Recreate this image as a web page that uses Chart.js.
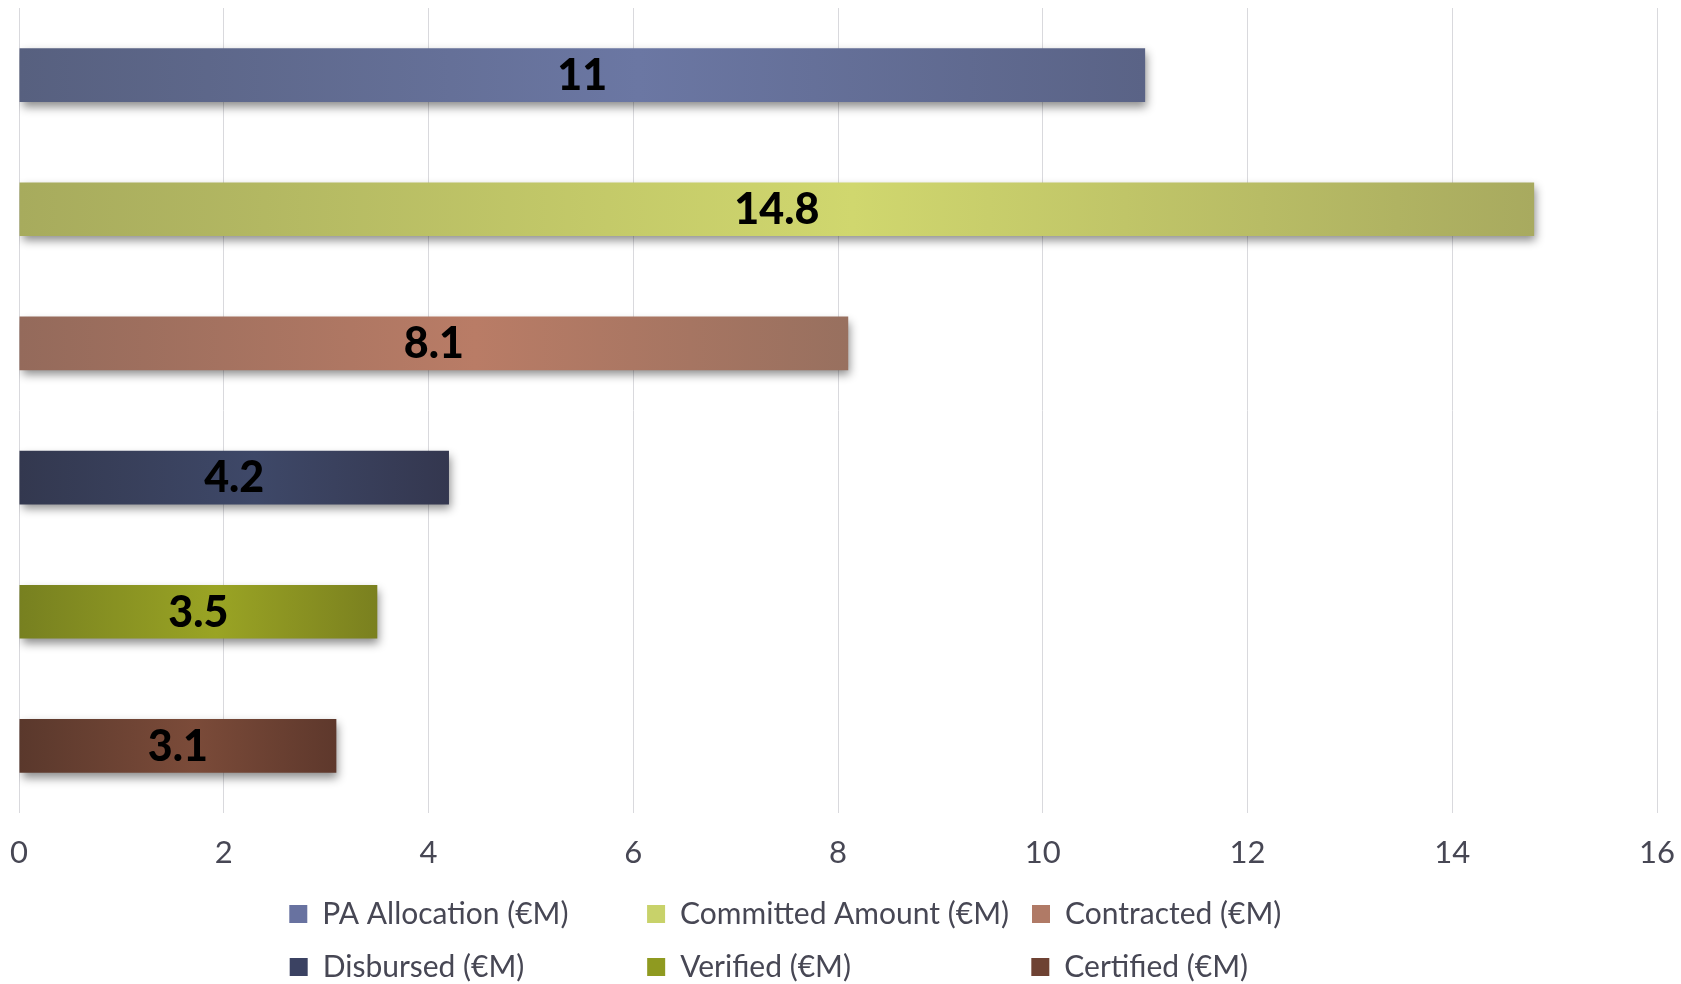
<!DOCTYPE html>
<html>
<head>
<meta charset="utf-8">
<script src="https://cdn.jsdelivr.net/npm/chart.js@4/dist/chart.umd.min.js"></script>
<style>
  html, body { margin: 0; padding: 0; background: #ffffff; }
  #wrap { width: 1681px; height: 984px; position: relative; }
</style>
</head>
<body>
<div id="wrap"><canvas id="chart"></canvas></div>
<script>
// ---- data ----
const categories = [''];
const seriesNames = [
  'PA Allocation (€M)',
  'Committed Amount (€M)',
  'Contracted (€M)',
  'Disbursed (€M)',
  'Verified (€M)',
  'Certified (€M)'
];
const seriesValues = [11, 14.8, 8.1, 4.2, 3.5, 3.1];
const xTickMin = 0;
const xTickMax = 16;
const xTickStep = 2;

// ---- styles ----
const barLeftColors   = ['#57607f', '#a7ab5d', '#946a5b', '#33384f', '#778020', '#5a382c'];
const barCenterColors = ['#6b77a3', '#d0d76e', '#b97c66', '#3e4868', '#9aa424', '#7b4b39'];
const barRightColors  = ['#5a6386', '#a8aa5f', '#98705f', '#34374f', '#7a801f', '#5e382c'];
const legendColors    = ['#6872a0', '#c8d26a', '#b07a66', '#3b4262', '#8f9a20', '#6e4233'];
const textColor = '#474754';
const FONT = 'Lato';
const LEGEND_FONT_SIZE = 30;
const LEGEND_COL1_TEXT = 302;
const LEGEND_COL3_TEXT = 322;
const LEGEND_MAX = 1300;
const LEGEND_DY = 8;
const X_AXIS_HEIGHT = 55;

function barFill(context, i) {
  const chart = context.chart;
  const xs = chart.scales && chart.scales.x;
  if (!xs || context.raw === undefined) return legendColors[i];
  const x0 = xs.getPixelForValue(0);
  const x1 = xs.getPixelForValue(context.raw);
  if (!isFinite(x0) || !isFinite(x1) || Math.abs(x1 - x0) < 1) return legendColors[i];
  const g = chart.ctx.createLinearGradient(x0, 0, x1, 0);
  g.addColorStop(0, barLeftColors[i]);
  g.addColorStop(0.55, barCenterColors[i]);
  g.addColorStop(1, barRightColors[i]);
  return g;
}

const datasets = seriesNames.map((name, i) => ({
  label: name,
  data: [seriesValues[i]],
  backgroundColor: (ctx) => barFill(ctx, i),
  borderWidth: 0,
  categoryPercentage: 1,
  barPercentage: 0.4
}));

// shadows + value labels
const barEffects = {
  id: 'barEffects',
  beforeDatasetsDraw(chart) {
    const c = chart.ctx;
    c.save();
    c.shadowColor = 'rgba(0,0,0,0.45)';
    c.shadowBlur = 9;
    c.shadowOffsetX = 2;
    c.shadowOffsetY = 5;
  },
  afterDatasetsDraw(chart) {
    const c = chart.ctx;
    c.restore();
    c.save();
    c.font = '900 43px ' + FONT;
    c.fillStyle = '#000000';
    c.textAlign = 'center';
    c.textBaseline = 'middle';
    chart.data.datasets.forEach((ds, i) => {
      const meta = chart.getDatasetMeta(i);
      meta.data.forEach((el, j) => {
        const p = el.getProps(['x', 'y', 'base'], true);
        c.fillText(String(ds.data[j]), (p.x + p.base) / 2, p.y + 1);
      });
    });
    c.restore();
  }
};

// legend in 3 columns
const legendColumns = {
  id: 'legendColumns',
  afterInit(chart) {
    const lg = chart.legend;
    if (!lg) return;
    const proto = Object.getPrototypeOf(lg);
    lg.fit = function () {
      const mw = this.maxWidth;
      this.maxWidth = Math.min(mw, LEGEND_MAX);
      proto.fit.call(this);
      this.maxWidth = mw;
    };
    lg.draw = function () {
      const s = { left: this.left, right: this.right, width: this.width, top: this.top, bottom: this.bottom };
      const cx = (this.left + this.right) / 2;
      this.left = cx - LEGEND_MAX / 2;
      this.right = cx + LEGEND_MAX / 2;
      this.width = LEGEND_MAX;
      this.top += LEGEND_DY;
      this.bottom += LEGEND_DY;
      proto.draw.call(this);
      Object.assign(this, s);
    };
  }
};

function padTo(c, text, target) {
  let t = text;
  for (const ch of [' ', '\u2009', '\u200A']) {
    let n = 0;
    while (n < 200) {
      const w0 = c.measureText(t).width;
      const w1 = c.measureText(t + ch).width;
      if (w1 <= w0 || w1 > target) break;
      t += ch;
      n++;
    }
  }
  return t;
}

const chart = new Chart(document.getElementById('chart'), {
  type: 'bar',
  data: { labels: categories, datasets },
  plugins: [barEffects, legendColumns],
  options: {
    indexAxis: 'y',
    responsive: true,
    maintainAspectRatio: false,
    animation: false,
    devicePixelRatio: 1,
    layout: { padding: { left: 19, right: 24, top: 8, bottom: 0 } },
    scales: {
      x: {
        min: xTickMin,
        max: xTickMax,
        ticks: { stepSize: xTickStep, font: { family: FONT, size: 31 }, color: textColor, padding: 21 },
        grid: { color: '#d9d9dd', lineWidth: 1, drawTicks: false },
        border: { display: false },
        afterFit(scale) {
          scale.paddingLeft = 0;
          scale.paddingRight = 0;
          scale.height = X_AXIS_HEIGHT;
        }
      },
      y: { display: false, grid: { display: false } }
    },
    plugins: {
      tooltip: { enabled: false },
      legend: {
        position: 'bottom',
        labels: {
          font: { family: FONT, size: LEGEND_FONT_SIZE },
          color: textColor,
          boxWidth: 18,
          boxHeight: 18,
          padding: 23,
          generateLabels(ch) {
            const items = Chart.defaults.plugins.legend.labels.generateLabels(ch);
            const c = ch.ctx;
            c.save();
            c.font = LEGEND_FONT_SIZE + 'px ' + FONT;
            const col2 = Math.max(...items.filter((_, k) => k % 3 === 1).map(it => c.measureText(it.text).width));
            const targets = [LEGEND_COL1_TEXT, col2, LEGEND_COL3_TEXT];
            items.forEach((it, k) => {
              it.text = padTo(c, it.text, targets[k % 3]);
              it.fillStyle = legendColors[k];
              it.strokeStyle = legendColors[k];
              it.lineWidth = 0;
            });
            c.restore();
            return items;
          }
        }
      }
    }
  }
});
</script>
</body>
</html>
